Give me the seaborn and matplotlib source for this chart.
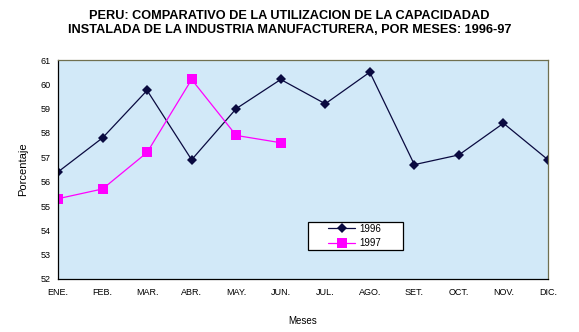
import matplotlib
matplotlib.use("Agg")
import matplotlib.pyplot as plt
from matplotlib.patches import Rectangle
import seaborn as sns
import pandas as pd

months = ["ENE.", "FEB.", "MAR.", "ABR.", "MAY.", "JUN.", "JUL.", "AGO.", "SET.", "OCT.", "NOV.", "DIC."]
v1996 = [56.4, 57.8, 59.75, 56.9, 59.0, 60.2, 59.2, 60.5, 56.7, 57.1, 58.4, 56.9]
v1997 = [55.3, 55.7, 57.2, 60.2, 57.9, 57.6]
yticks = [52, 53, 54, 55, 56, 57, 58, 59, 60, 61]

sns.set_theme(style="white")
plt.rcParams['font.family'] = ['Liberation Sans', 'DejaVu Sans']
for k in ["text.color", "axes.labelcolor", "xtick.color", "ytick.color"]:
    plt.rcParams[k] = "black"

df = pd.concat([
    pd.DataFrame({"mes": list(range(len(v1996))), "valor": v1996, "serie": "1996"}),
    pd.DataFrame({"mes": list(range(len(v1997))), "valor": v1997, "serie": "1997"}),
])

fig = plt.figure(figsize=(5.79, 3.32), dpi=100)
ax = fig.add_axes([58/579, 1 - 279/332, 490/579, 219/332])
ax.set_facecolor("#d2e9f8")

sns.lineplot(data=df, x="mes", y="valor", hue="serie", style="serie",
             palette={"1996": "#0a0a40", "1997": "#ff00ff"},
             markers={"1996": "D", "1997": "s"}, dashes=False,
             markersize=6, linewidth=0.9, markeredgewidth=0, ax=ax)
for line in ax.lines:
    if line.get_marker() == "D":
        line.set_markersize(5.5)
    else:
        line.set_markersize(7)

ax.set_xlim(0, 11)
ax.set_ylim(52, 61)
ax.set_xticks(range(len(months)))
ax.set_xticklabels(months, fontsize=6.5)
ax.set_yticks(yticks)
ax.set_yticklabels([str(t) for t in yticks], fontsize=6.5)
ax.tick_params(axis="x", direction="inout", length=5, width=0.8, color="black", pad=4)
ax.tick_params(axis="y", direction="out", length=3, width=0.8, color="black", pad=2)
ax.set_xlabel("Meses", fontsize=7, labelpad=14)
ax.set_ylabel("Porcentaje", fontsize=8, labelpad=9)

for side in ["left", "bottom"]:
    ax.spines[side].set_color("black")
    ax.spines[side].set_linewidth(0.9)
for side in ["top", "right"]:
    ax.spines[side].set_color("#707050")
    ax.spines[side].set_linewidth(0.9)

# legend box
ax.add_patch(Rectangle((250/490, 29/219), 95/490, 28/219, transform=ax.transAxes,
                       facecolor="white", edgecolor="black", linewidth=0.9, zorder=5))
leg = ax.legend(loc="center left", bbox_to_anchor=((328 - 58)/490, (279 - 236)/219),
                fontsize=7, frameon=False, borderpad=0, borderaxespad=0,
                handlelength=2.8, handletextpad=0.4, labelspacing=0.45, title=None)
leg.set_zorder(6)

fig.text(0.5, 1 - 23/332, "PERU: COMPARATIVO DE LA UTILIZACION DE LA CAPACIDADAD\nINSTALADA DE LA INDUSTRIA MANUFACTURERA, POR MESES: 1996-97",
         ha="center", va="center", fontsize=9.2, fontweight="bold", linespacing=1.15)

fig.savefig("out.png", dpi=100)
